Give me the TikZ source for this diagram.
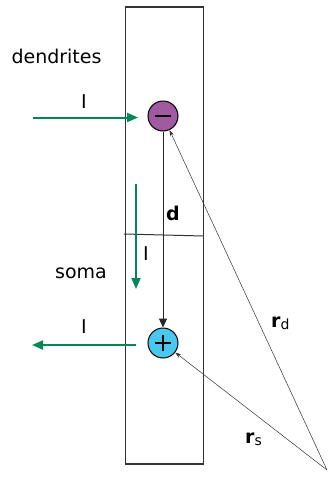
\documentclass[tikz,border=0pt]{standalone}
\usepackage{fontspec}
\setmainfont{DejaVu Sans}
\usetikzlibrary{arrows.meta}
\definecolor{grn}{RGB}{0,137,82}
\definecolor{purp}{RGB}{161,90,160}
\definecolor{cyn}{RGB}{72,200,238}
\begin{document}
\begin{tikzpicture}[x=1pt,y=-1pt,
  lbl/.style={font=\fontsize{19}{22}\selectfont, inner sep=0pt},
  cur/.style={draw=grn, line width=2pt, -{Triangle[length=11pt,width=9pt]}},
  charge/.style={circle, draw=black, line width=1pt, minimum size=30pt, inner sep=0pt},
  thin/.style={draw=black!80, line width=0.5pt, -{Stealth[length=6pt,width=4pt]}}]
\useasboundingbox (0,0) rectangle (328,477);
\draw[line width=1.2pt, draw=black!80] (125.5,7) rectangle (203.5,464);
\draw[line width=1pt, draw=black!80] (124,234) -- (203.5,236);
\node[charge, fill=purp] (m) at (163,116) {};
\draw[line width=1.8pt] ([xshift=-8pt]m.center) -- ([xshift=8pt]m.center);
\node[charge, fill=cyn] (p) at (163,343) {};
\draw[line width=1.8pt] ([xshift=-8pt]p.center) -- ([xshift=8pt]p.center);
\draw[line width=1.8pt] ([yshift=-8pt]p.center) -- ([yshift=8pt]p.center);
\draw[line width=1pt, draw=black!85, -{Triangle[length=9pt,width=8pt]}] (m.south) -- (p.north);
\coordinate (a1) at (33,117.5);
\coordinate (a1e) at (138,117.5);
\draw[cur] (a1) -- (a1e);
\coordinate (a2) at (136,184);
\coordinate (a2e) at (136,289);
\draw[cur] (a2) -- (a2e);
\coordinate (a3) at (136,345);
\coordinate (a3e) at (32,345);
\draw[cur] (a3) -- (a3e);
\coordinate (o) at (327,470);
\draw[thin] (o) -- (m);
\draw[thin] (o) -- (p);
\node[lbl] (dend) at (56.5,56) {dendrites};
\node[lbl] (soma) at (81,273) {soma};
\node[lbl] (i1) at (84,102) {I};
\node[lbl] (i2) at (146,254) {I};
\node[lbl] (i3) at (84,327) {I};
\node[lbl] (d) at (173,213) {\textbf{d}};
\node[lbl, anchor=base west] (rd) at (271,327) {\textbf{r}\raisebox{-2pt}{\fontsize{14}{16}\selectfont d}};
\node[lbl, anchor=base west] (rs) at (245,443) {\textbf{r}\raisebox{-2pt}{\fontsize{14}{16}\selectfont s}};
\end{tikzpicture}
\end{document}
